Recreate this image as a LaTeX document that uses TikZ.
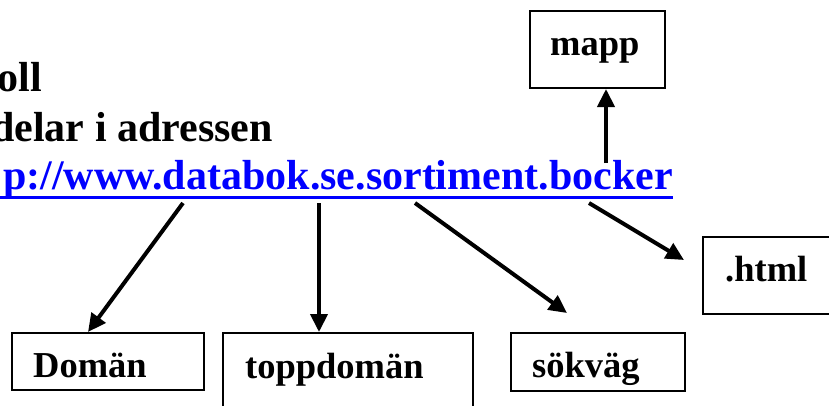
\documentclass[tikz,border=0pt]{standalone}
\usepackage{fontspec}
\setmainfont{Liberation Serif}
\usetikzlibrary{arrows.meta,calc}
\definecolor{linkblue}{RGB}{0,0,255}
\begin{document}
\begin{tikzpicture}[x=1pt,y=-1pt,
  head/.style={font=\fontsize{42}{42}\selectfont\bfseries, inner sep=0, anchor=base east},
  box/.style={draw, line width=2pt, anchor=north west, inner sep=0},
  lbl/.style={font=\fontsize{36.5}{36.5}\selectfont\bfseries, inner sep=0, anchor=base west},
  arr/.style={line width=4pt, -{Triangle[length=18pt,width=17pt]}}]
\useasboundingbox (0,0) rectangle (829,405);
\clip (0,0) rectangle (829,405);
% heading text
\node[head] (h1) at (42,91) {oll};
\node[head] (h2) at (273,141) {delar i adressen};
\node[head, text=linkblue] (url) at (673,189) {p://www.databok.se.sortiment.bocker};
\fill[linkblue] (-5,195.5) rectangle (673,198.5);
% boxes
\node[box, minimum width=135pt, minimum height=77pt] (mapp) at (529,10) {};
\node[box, minimum width=150pt, minimum height=77pt] (html) at (702,236) {};
\node[box, minimum width=192pt, minimum height=57pt] (domain) at (11,332) {};
\node[box, minimum width=250pt, minimum height=100pt] (topp) at (222,332) {};
\node[box, minimum width=174pt, minimum height=58pt] (sok) at (510,332) {};
% labels
\node[lbl] (lmapp) at (550,55) {mapp};
\node[lbl] (lhtml) at (725,281) {.html};
\node[lbl] (ldomain) at (33,377) {Domän};
\node[lbl] (ltopp) at (245,378) {toppdomän};
\node[lbl] (lsok) at (532,377) {sökväg};
% arrow starts
\coordinate (s1) at (183,203);
\coordinate (s2) at (319,203);
\coordinate (s3) at (415,203);
\coordinate (s4) at (589,203);
\coordinate (s5) at (606,163);
\draw[arr] (s1) -- ($(domain.north west)+(77,0)$);
\draw[arr] (s2) -- ($(topp.north west)+(97,0)$);
\draw[arr] (s3) -- ($(sok.north west)+(57,-19)$);
\draw[arr] (s4) -- ($(html.north west)+(-18,24)$);
\draw[arr] (s5) -- ($(mapp.south west)+(77,0)$);
\end{tikzpicture}
\end{document}
